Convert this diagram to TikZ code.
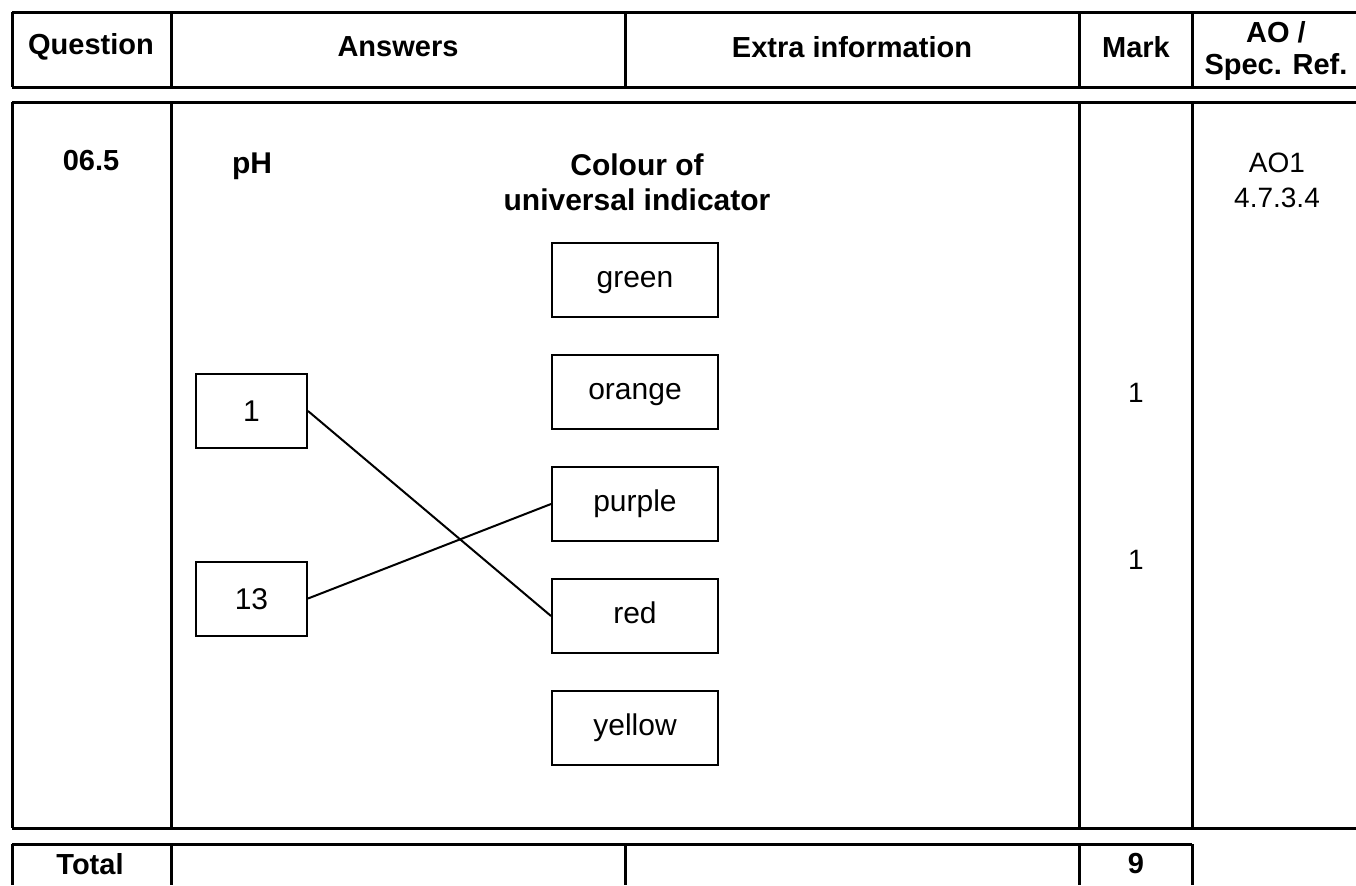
\documentclass[tikz,border=0pt]{standalone}
\usepackage{fontspec}
\setmainfont{Liberation Sans}
\usetikzlibrary{positioning}
\tikzset{
  rule/.style={line width=1.5pt},
  head/.style={font=\fontsize{14.5}{17.5}\selectfont\bfseries, align=center, inner sep=0pt},
  cell/.style={font=\fontsize{14}{17.5}\selectfont, align=center, inner sep=0pt},
  colbox/.style={draw, line width=1pt, minimum width=83pt, minimum height=37pt, inner sep=0pt,
    text height=7.8pt, text depth=0pt, font=\fontsize{15}{18}\selectfont},
  phbox/.style={colbox, minimum width=55.5pt, text height=10.7pt},
  link/.style={line width=1pt}
}

\begin{document}
\begin{tikzpicture}[x=0.5pt, y=-0.5pt, node distance=18pt]
  \useasboundingbox (0,0) rectangle (1356,885);

  % Header row
  \draw[rule] (12,12) -- (1356,12) (12,87) -- (1356,87);
  \foreach \x in {12,171,625,1079,1192}
    \draw[rule] (\x,12) -- (\x,87);
  \node[head] (hq) at (91,47) {Question};
  \node[head] (ha) at (398,47) {Answers};
  \node[head] (he) at (852,47) {Extra information};
  \node[head] (hm) at (1136,47) {Mark};
  \node[head, font=\fontsize{14.5}{16}\selectfont\bfseries] (hao) at (1276,51) {AO /\\Spec. Ref.};

  % Body row
  \draw[rule] (12,102) -- (1356,102) (12,828) -- (1356,828);
  \foreach \x in {12,171,1079,1192}
    \draw[rule] (\x,102) -- (\x,828);
  \node[head] (qno) at (91,161) {06.5};
  \node[cell] (ref) at (1277,180) {AO1\\4.7.3.4};
  \node[cell] (mk1) at (1136,393) {1};
  \node[cell] (mk2) at (1136,560) {1};

  % Matching diagram
  \node[head, font=\fontsize{15}{17.5}\selectfont\bfseries] (ph) at (252,166) {pH};
  \node[head, font=\fontsize{15}{17.5}\selectfont\bfseries] (colour) at (637,182) {Colour of\\universal indicator};
  \node[colbox] (green) at (635,280) {green};
  \node[colbox, below=of green] (orange) {orange};
  \node[colbox, below=of orange] (purple) {purple};
  \node[colbox, below=of purple] (red) {red};
  \node[colbox, below=of red] (yellow) {yellow};
  \node[phbox] (one) at (251.5,411) {1};
  \node[phbox] (thirteen) at (251.5,598.5) {13};
  \draw[link] (one.east) -- (red.west);
  \draw[link] (thirteen.east) -- (purple.west);

  % Total row
  \draw[rule] (12,844) -- (1192,844);
  \foreach \x in {12,171,625,1079,1192}
    \draw[rule] (\x,844) -- (\x,885);
  \node[head] (tot) at (90,864) {Total};
  \node[head] (totmk) at (1136,864) {9};
\end{tikzpicture}
\end{document}
